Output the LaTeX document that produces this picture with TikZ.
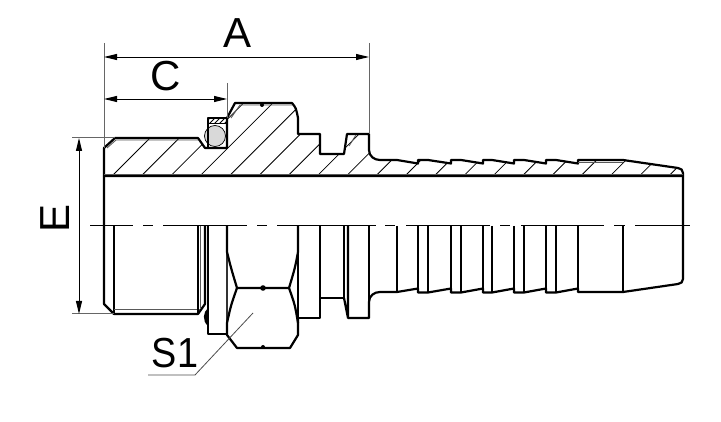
\documentclass[tikz,border=0pt]{standalone}
\usepackage{fontspec}
\setmainfont{Liberation Sans}
\usetikzlibrary{arrows.meta}
\definecolor{ringgrey}{gray}{0.85}
\newcommand{\sectionprofile}{(104,176) -- (104,148) -- (115,138) -- (198,138) -- (205,148) -- (227,148) -- (227,118) -- (235,103) -- (292,103) .. controls (296,108) .. (298,118) -- (298,134) -- (320,134) -- (320,154) -- (344,154) -- (347,134) -- (369,134) -- (369,150) .. controls (369,156) and (374,160) .. (380,160) -- (397,160) -- (418,163.5) -- (418,160) -- (428,160) -- (451,163.5) -- (451,160) -- (461,160) -- (483,163.5) -- (483,160) -- (492,160) -- (514,163.5) -- (514,160) -- (524,160) -- (546,163.5) -- (546,160) -- (556,160) -- (578,163.5) -- (578,160) -- (623,160) -- (678,168) .. controls (681,168.5) and (683,170) .. (683,173) -- (683,176) -- cycle}

\begin{document}
\begin{tikzpicture}[x=1pt, y=-1pt, >={Triangle[length=13pt,width=6pt]}, line join=round, every node/.style={font=\fontsize{42}{42}\selectfont, inner sep=0pt}]
  \tikzset{outline/.style={line width=2.2pt}, hatch/.style={line width=0.8pt}, thinline/.style={line width=0.9pt, black!65}, extline/.style={line width=1pt, black!60}, dimline/.style={<->, line width=0.9pt}}
  \useasboundingbox (0,0) rectangle (721,422);

  % hatching of the cut half
  \begin{scope}
    \clip \sectionprofile;
    \foreach \k in {0,...,20} \draw[hatch] (112+29.3*\k,176) -- (112+29.3*\k+130,46);
  \end{scope}

  % sealing ring in its groove
  \begin{scope}
    \clip (209,118) rectangle (226,124);
    \foreach \k in {0,...,5} \draw[line width=0.8pt] (204+5*\k,124) -- (204+5*\k+6,118);
  \end{scope}
  \draw[line width=0.7pt, fill=ringgrey] (215,136) circle[radius=10.5];
  \draw[line width=1pt] (208,124) -- (227,124);
  \draw[outline] (208,148) -- (208,118) -- (227,118);

  % upper half
  \draw[outline] \sectionprofile;
  \draw[thinline] (107,148) -- (116,140) -- (198,140);
  \draw[thinline] (231,118) -- (240,105) -- (292,105);
  \draw[thinline] (349,146) -- (356,135);
  \draw[thinline] (578,162) -- (623,162);
  \fill (262,105) circle[radius=2];
  \draw[thinline] (104,174) -- (683,174);

  % centre line
  \draw[line width=1pt, dash pattern=on 43pt off 10pt on 10pt off 10pt on 84pt off 10pt on 10pt off 10pt on 99pt off 9pt on 10pt off 11pt on 84pt off 10pt on 10pt off 11pt on 83pt off 10pt on 11pt off 10pt on 55pt off 50pt] (90,226) -- (690,226);

  % threaded end, lower half
  \draw[outline] (104,176) -- (104,304) -- (114,314) -- (198,314) -- (205,304) -- (205,226);
  \draw[line width=1.4pt] (114,226) -- (114,314);
  \draw[thinline] (114,309) -- (200,309);
  \draw[line width=1.4pt] (198,226) -- (198,314);
  \draw[thinline] (200,226) -- (200,308);
  \fill (208,308) .. controls (203,312) and (202,321) .. (208,326) -- cycle;

  % hexagon and collar
  \draw[outline] (208,226) -- (208,334) -- (227,334);
  \draw[line width=1.2pt, black!80] (227,252) -- (227,323);
  \draw[outline] (227,226) -- (227,252) .. controls (231,268) .. (237,288) -- (289,288) .. controls (295,268) .. (298,252) -- (298,226);
  \draw[outline] (237,288) .. controls (231,305) .. (227,323) -- (227,335) -- (237,348) -- (290,348) -- (298,335) -- (298,318);
  \draw[outline] (289,288) .. controls (295,305) .. (298,323);
  \fill (263,288) circle[radius=2.8];
  \fill (263,347) circle[radius=2];
  \draw[outline] (298,252) -- (298,318) -- (320,318) -- (320,226);
  \draw[outline] (320,298) -- (344,298) -- (344,226);
  \draw[outline] (344,298) -- (348,318) -- (348,226);

  % barbed tail, lower half
  \draw[outline] (348,318) -- (369,318) -- (369,302) .. controls (369,296) and (374,292) .. (380,292) -- (397,292) -- (418,288.5) -- (418,292.5) -- (428,292.5) -- (451,288.5) -- (451,292.5) -- (461,292.5) -- (483,288.5) -- (483,292.5) -- (492,292.5) -- (514,288.5) -- (514,292.5) -- (524,292.5) -- (546,288.5) -- (546,292.5) -- (556,292.5) -- (578,288.5) -- (578,292) -- (623,292) -- (678,284) .. controls (681,283.5) and (683,282) .. (683,279) -- (683,176);
  \foreach \x/\y in {369/318,397/292,418/292,428/292,451/292,461/292,483/292,492/292,514/292,524/292,546/292,556/292,578/292,623/292}
    \draw[line width=1.6pt] (\x,226) -- (\x,\y);

  % dimension lines and labels
  \coordinate (aleft) at (104,57);
  \coordinate (aright) at (369,57);
  \coordinate (cleft) at (104,99);
  \coordinate (cright) at (227,99);
  \coordinate (etop) at (79,138);
  \coordinate (ebottom) at (79,314);
  \coordinate (s1start) at (148,375);
  \coordinate (s1knee) at (195,375);
  \coordinate (s1end) at (253,313);
  \draw[extline] (104,43) -- (104,148);
  \draw[extline] (369,43) -- (369,134);
  \draw[extline] (227,83) -- (227,118);
  \draw[extline] (72,138) -- (115,138);
  \draw[extline] (72,314) -- (114,314);
  \draw[dimline] (aleft) -- (aright);
  \draw[dimline] (cleft) -- (cright);
  \draw[dimline] (etop) -- (ebottom);
  \draw[line width=0.8pt, black!70] (s1start) -- (s1knee) -- (s1end);
  \node (labelA) at (238,33) {A};
  \node (labelC) at (166,76) {C};
  \node[rotate=90] (labelE) at (55.5,218) {E};
  \node[xscale=0.9] (labelS) at (175,353) {S1};
\end{tikzpicture}
\end{document}
